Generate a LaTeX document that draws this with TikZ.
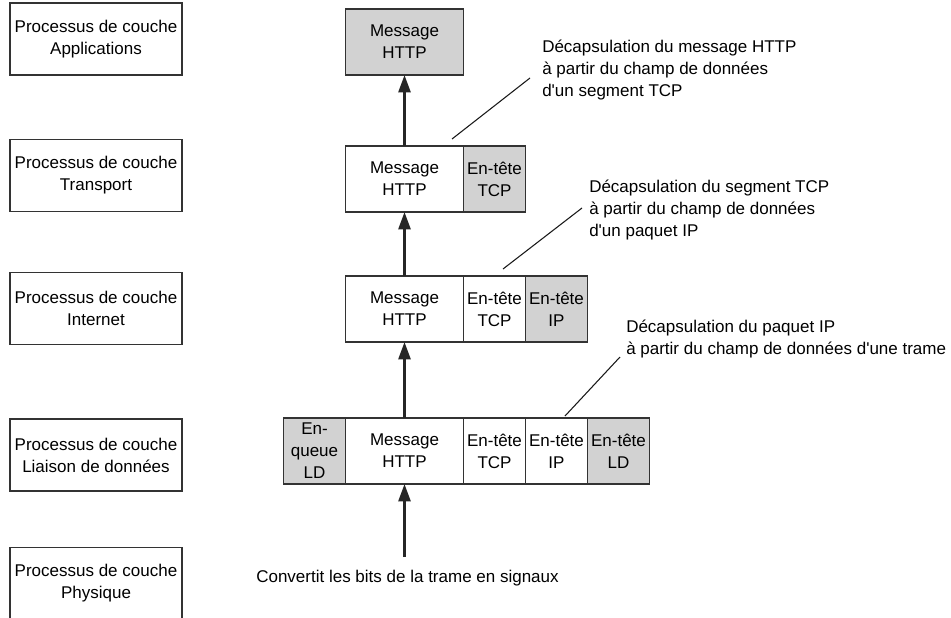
\documentclass[tikz,border=0pt]{standalone}
\usepackage{fontspec}
\setmainfont{Liberation Sans}[Ligatures=TeXOff]
\usetikzlibrary{positioning,arrows.meta}

\begin{document}
\begin{tikzpicture}[x=0.75pt,y=-0.75pt,font=\fontsize{12.75}{16.5}\selectfont,
	layer/.style={draw=black!80,line width=0.8pt,minimum width=129pt,minimum height=54pt,inner sep=0pt,align=center},
	cell/.style={draw=black!80,line width=0.8pt,minimum height=49.5pt,inner sep=0pt,outer sep=0pt,align=center},
	wide/.style={cell,minimum width=88.5pt},
	narrow/.style={cell,minimum width=46.5pt},
	hdr/.style={fill=gray!35},
	up/.style={-{Triangle[length=13pt,width=9pt]},line width=1.9pt,black!85},
	leader/.style={line width=0.8pt,black!90},
	note/.style={align=left,inner sep=0pt,anchor=west}]
		
		\useasboundingbox (0,0) rectangle (951,618);
		
		\node[layer] (app) at (96,39) {Processus de couche\\Applications};
		\node[layer] (trans) at (96,175.5) {Processus de couche\\Transport};
		\node[layer] (inet) at (96,308.5) {Processus de couche\\Internet};
		\node[layer] (liai) at (96,455) {Processus de couche\\Liaison de donn\'ees};
		\node[layer] (phys) at (96,583.5) {Processus de couche\\Physique};
		
		
		\node[wide,hdr] (aMsg) at (404.5,42) {Message\\HTTP};
		
		
		\node[wide] (tMsg) at (404.5,179) {Message\\HTTP};
		\node[narrow,hdr,right=0pt of tMsg] (tTcp) {En-t\^ete\\TCP};
		
		
		\node[wide] (iMsg) at (404.5,309) {Message\\HTTP};
		\node[narrow,right=0pt of iMsg] (iTcp) {En-t\^ete\\TCP};
		\node[narrow,hdr,right=0pt of iTcp] (iIp) {En-t\^ete\\IP};
		
		
		\node[wide] (lMsg) at (404.5,451) {Message\\HTTP};
		\node[narrow,hdr,left=0pt of lMsg] (lQueue) {En-\\queue\\LD};
		\node[narrow,right=0pt of lMsg] (lTcp) {En-t\^ete\\TCP};
		\node[narrow,right=0pt of lTcp] (lIp) {En-t\^ete\\IP};
		\node[narrow,hdr,right=0pt of lIp] (lLd) {En-t\^ete\\LD};
		
		
		\coordinate (src) at (404.5,557);
		\draw[up] (src) -- (lMsg);
		\draw[up] (lMsg) -- (iMsg);
		\draw[up] (iMsg) -- (tMsg);
		\draw[up] (tMsg) -- (aMsg);
		
		\node (conv) at (407.5,578) {Convertit les bits de la trame en signaux};
		
		
		\node[note] (n1) at (542,70) {D\'ecapsulation du message HTTP\\\`a partir du champ de donn\'ees\\d'un segment TCP};
		\coordinate (p1) at (452,139);
		\coordinate (q1) at (530,78);
		\draw[leader] (p1) -- (q1);
		
		\node[note] (n2) at (589,210) {D\'ecapsulation du segment TCP\\\`a partir du champ de donn\'ees\\d'un paquet IP};
		\coordinate (p2) at (503,269);
		\coordinate (q2) at (582,208);
		\draw[leader] (p2) -- (q2);
		
		\node[note] (n3) at (626,338.5) {D\'ecapsulation du paquet IP\\\`a partir du champ de donn\'ees d'une trame};
		\coordinate (p3) at (565,416);
		\coordinate (q3) at (620,357);
		\draw[leader] (p3) -- (q3);
		
		\end{tikzpicture}
\end{document}
